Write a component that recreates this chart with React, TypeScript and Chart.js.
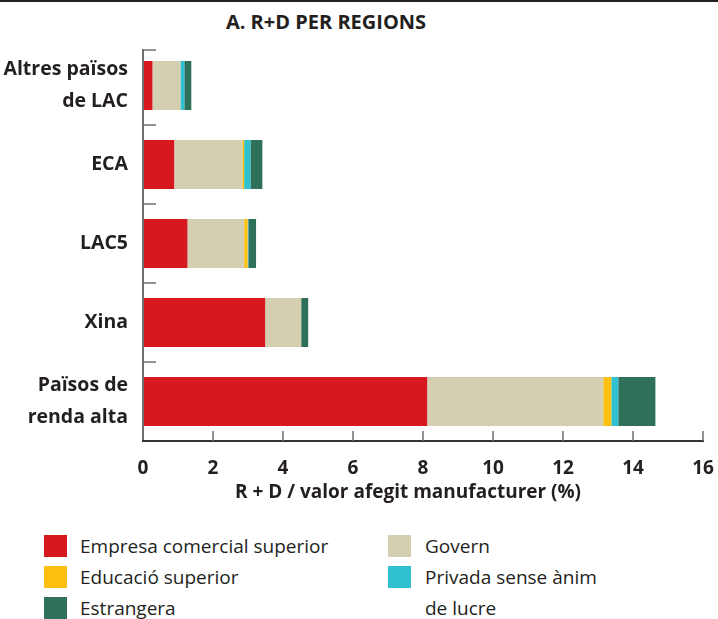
import React, { useEffect, useRef } from "react";
import { Chart, registerables } from "chart.js";

Chart.register(...registerables);

const chartTitle = "A. R+D PER REGIONS";
const xAxisTitle = "R + D / valor afegit manufacturer (%)";
const categories: (string | string[])[] = [
  ["Altres països", "de LAC"],
  "ECA",
  "LAC5",
  "Xina",
  ["Països de", "renda alta"],
];
const empresa = [0.27, 0.89, 1.27, 3.49, 8.12];
const govern = [0.8, 1.95, 1.62, 1.03, 5.03];
const educacio = [0, 0.05, 0.1, 0, 0.23];
const privada = [0.11, 0.18, 0.02, 0, 0.2];
const estrangera = [0.2, 0.34, 0.22, 0.2, 1.06];
const xTicks = [0, 2, 4, 6, 8, 10, 12, 14, 16];

const seriesNames = [
  "Empresa comercial superior",
  "Govern",
  "Educació superior",
  "Privada sense ànim de lucre",
  "Estrangera",
];
const seriesColors = ["#D7191F", "#D3CFB0", "#FDC010", "#30C0D0", "#2E705A"];

const TEXT = "#231F20";
const FONT = "'Open Sans', 'DejaVu Sans', sans-serif";

const axesPlugin = {
  id: "customAxes",
  afterDraw(chart: any) {
    const { ctx, chartArea } = chart;
    const x = chart.scales.x;
    const y = chart.scales.y;
    ctx.save();
    // y axis
    ctx.strokeStyle = "#6D6E70";
    ctx.lineWidth = 2;
    ctx.beginPath();
    ctx.moveTo(chartArea.left, chartArea.top + 3);
    ctx.lineTo(chartArea.left, chartArea.bottom);
    ctx.stroke();
    // y ticks at category boundaries
    ctx.lineWidth = 1.5;
    const n = categories.length;
    for (let i = 0; i < n; i++) {
      const p = y.getPixelForValue(i);
      const half = (y.getPixelForValue(1) - y.getPixelForValue(0)) / 2;
      let b = p - half;
      if (i === 0) b = Math.max(b, chartArea.top + 4);
      ctx.beginPath();
      ctx.moveTo(chartArea.left, b);
      ctx.lineTo(chartArea.left + 13, b);
      ctx.stroke();
    }
    // x axis
    ctx.strokeStyle = "#333333";
    ctx.lineWidth = 2;
    ctx.beginPath();
    ctx.moveTo(chartArea.left - 1, chartArea.bottom);
    ctx.lineTo(chartArea.right + 1, chartArea.bottom);
    ctx.stroke();
    ctx.strokeStyle = "#6D6E70";
    ctx.lineWidth = 1.5;
    for (const v of xTicks) {
      if (v === 0) continue;
      const px = x.getPixelForValue(v);
      ctx.beginPath();
      ctx.moveTo(px, chartArea.bottom);
      ctx.lineTo(px, chartArea.bottom - 10);
      ctx.stroke();
    }
    // x axis title
    ctx.fillStyle = TEXT;
    ctx.font = `bold 19px ${FONT}`;
    ctx.textAlign = "center";
    ctx.textBaseline = "middle";
    ctx.fillText(xAxisTitle, 408, chartArea.bottom + 52);
    ctx.restore();
  },
};

function App() {
  const ref = useRef<HTMLCanvasElement | null>(null);

  useEffect(() => {
    document.body.style.margin = "0";
    if (!ref.current) return;
    const data = [empresa, govern, educacio, privada, estrangera];
    const chart = new Chart(ref.current, {
      type: "bar",
      data: {
        labels: categories as any,
        datasets: data.map((d, i) => ({
          label: seriesNames[i],
          data: d,
          backgroundColor: seriesColors[i],
          borderWidth: 0,
          barPercentage: 0.62,
          categoryPercentage: 1,
        })),
      },
      options: {
        indexAxis: "y",
        responsive: false,
        animation: false,
        layout: { padding: { top: 46, right: 15, left: 0, bottom: 0 } },
        plugins: {
          legend: { display: false },
          tooltip: { enabled: false },
          title: { display: false },
        },
        scales: {
          x: {
            stacked: true,
            min: 0,
            max: 16,
            grid: { display: false },
            border: { display: false },
            afterFit(scale: any) {
              scale.height = 69;
              scale.paddingLeft = 0;
              scale.paddingRight = 0;
            },
            afterBuildTicks(scale: any) {
              scale.ticks = xTicks.map((v) => ({ value: v }));
            },
            ticks: {
              color: TEXT,
              padding: 8,
              font: { family: FONT, size: 19, weight: "bold" },
            },
          },
          y: {
            stacked: true,
            grid: { display: false },
            border: { display: false },
            afterFit(scale: any) {
              scale.width = 143;
              scale.paddingTop = 0;
              scale.paddingBottom = 0;
            },
            ticks: {
              color: TEXT,
              padding: 7,
              font: { family: FONT, size: 19.5, weight: "bold", lineHeight: 1.65 },
            },
          },
        },
      } as any,
      plugins: [axesPlugin],
    });
    return () => chart.destroy();
  }, []);

  const legendLeft = [0, 2, 4];
  const legendRight = [1, 3];

  const sq = (i: number) => (
    <div
      style={{
        width: 23,
        height: 22,
        background: seriesColors[i],
        position: "absolute",
        left: 0,
        top: 0,
      }}
    />
  );

  return (
    <div
      style={{
        position: "relative",
        width: 718,
        height: 619,
        fontFamily: FONT,
        color: TEXT,
        overflow: "hidden",
      }}
    >
      <div
        style={{
          position: "absolute",
          left: 0,
          top: 0,
          width: 718,
          height: 2,
          background: TEXT,
        }}
      />
      <div
        style={{
          position: "absolute",
          left: 0,
          top: 8,
          width: 652,
          textAlign: "center",
          fontWeight: "bold",
          fontSize: 20,
          lineHeight: "28px",
        }}
      >
        {chartTitle}
      </div>
      <canvas
        ref={ref}
        width={718}
        height={510}
        style={{ position: "absolute", left: 0, top: 0, width: 718, height: 510 }}
      />
      {legendLeft.map((si, r) => (
        <div
          key={"l" + si}
          style={{ position: "absolute", left: 44, top: 535 + r * 31, height: 22 }}
        >
          {sq(si)}
          <div
            style={{
              position: "absolute",
              left: 36,
              top: -4,
              fontSize: 19,
              lineHeight: "30px",
              whiteSpace: "nowrap",
            }}
          >
            {seriesNames[si]}
          </div>
        </div>
      ))}
      {legendRight.map((si, r) => (
        <div
          key={"r" + si}
          style={{ position: "absolute", left: 388, top: 535 + r * 31, height: 22 }}
        >
          {sq(si)}
          <div
            style={{
              position: "absolute",
              left: 37,
              top: -4,
              fontSize: 19,
              lineHeight: "31px",
              width: 200,
            }}
          >
            {si === 3 ? (
              <>
                Privada sense ànim
                <br />
                de lucre
              </>
            ) : (
              seriesNames[si]
            )}
          </div>
        </div>
      ))}
    </div>
  );
}

export default App;
